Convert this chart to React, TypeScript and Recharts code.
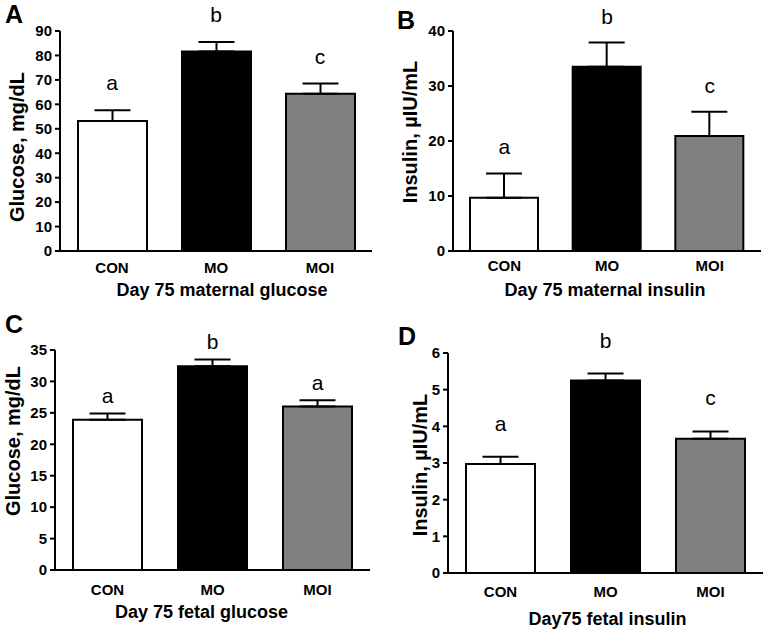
import React from 'react';
import {
  ComposedChart,
  Bar,
  Line,
  Cell,
  XAxis,
  YAxis,
  ErrorBar,
  LabelList,
} from 'recharts';

const GROUPS = ['CON', 'MO', 'MOI'];
const FILLS = ['#ffffff', '#000000', '#808080'];

const matGlucose = [53.2, 81.6, 64.3];
const matGlucoseSem = [4.4, 3.9, 4.2];
const matGlucoseLetters = ['a', 'b', 'c'];

const matInsulin = [9.7, 33.5, 20.9];
const matInsulinSem = [4.4, 4.4, 4.4];
const matInsulinLetters = ['a', 'b', 'c'];

const fetGlucose = [23.9, 32.4, 26.0];
const fetGlucoseSem = [1.0, 1.1, 1.0];
const fetGlucoseLetters = ['a', 'b', 'a'];

const fetInsulin = [2.97, 5.25, 3.66];
const fetInsulinSem = [0.2, 0.19, 0.2];
const fetInsulinLetters = ['a', 'b', 'c'];

const FONT = '"Liberation Sans", Arial, Helvetica, sans-serif';

function rows(means: number[], sems: number[], letters: string[]) {
  return GROUPS.map((g, i) => ({
    group: g,
    mean: means[i],
    err: [0, sems[i]],
    top: means[i] + sems[i],
    letter: letters[i],
  }));
}

interface PanelProps {
  tag: string;
  data: ReturnType<typeof rows>;
  ticks: number[];
  yTitle: string;
  xTitle: string;
  left: number;
  top: number;
  width: number;
  height: number;
  margin: { top: number; right: number; left: number; bottom: number };
  yWidth: number;
  xHeight: number;
  xTickGap: number;
  xTitleDy: number;
  xTitleDx: number;
  yTitleX: number;
  yTitleDy: number;
  letterGap: number;
  barSize: number;
  tagX: number;
  tagY: number;
}

function Panel(p: PanelProps) {
  const max = p.ticks[p.ticks.length - 1];
  return (
    <div style={{ position: 'absolute', left: p.left, top: p.top }}>
      <ComposedChart width={p.width} height={p.height} data={p.data} margin={p.margin}>
        <XAxis
          dataKey="group"
          height={p.xHeight}
          tickLine={false}
          tickSize={0}
          tickMargin={p.xTickGap}
          axisLine={{ stroke: '#000', strokeWidth: 2 }}
          tick={{ fill: '#000', fontSize: 15, fontWeight: 700, fontFamily: FONT }}
          label={{
            content: ({ viewBox }: any) => (
              <text
                x={viewBox.x + viewBox.width / 2 + p.xTitleDx}
                y={viewBox.y + p.xTitleDy}
                textAnchor="middle"
                fontSize={18}
                fontWeight={700}
                fontFamily={FONT}
                fill="#000"
              >
                {p.xTitle}
              </text>
            ),
          }}
        />
        <YAxis
          width={p.yWidth}
          domain={[0, max]}
          ticks={p.ticks}
          interval={0}
          tickSize={5}
          tickMargin={3}
          axisLine={{ stroke: '#000', strokeWidth: 2 }}
          tickLine={{ stroke: '#000', strokeWidth: 2 }}
          tick={{ fill: '#000', fontSize: 15, fontWeight: 700, fontFamily: FONT }}
          label={{
            content: ({ viewBox }: any) => {
              const cx = p.yTitleX;
              const cy = viewBox.y + viewBox.height / 2 + p.yTitleDy;
              return (
                <text
                  x={cx}
                  y={cy}
                  transform={`rotate(-90, ${cx}, ${cy})`}
                  textAnchor="middle"
                  dominantBaseline="central"
                  fontSize={20}
                  fontWeight={700}
                  fontFamily={FONT}
                  fill="#000"
                >
                  {p.yTitle}
                </text>
              );
            },
          }}
        />
        <Bar
          dataKey="mean"
          barSize={p.barSize}
          stroke="#000"
          strokeWidth={2}
          isAnimationActive={false}
        >
          {p.data.map((_, i) => (
            <Cell key={i} fill={FILLS[i]} />
          ))}
          <ErrorBar dataKey="err" direction="y" width={18} stroke="#000" strokeWidth={2} />
        </Bar>
        <Line
          dataKey="top"
          stroke="none"
          dot={false}
          activeDot={false}
          isAnimationActive={false}
        >
          <LabelList
            dataKey="letter"
            content={(lp: any) => (
              <text
                x={lp.x}
                y={lp.y - p.letterGap}
                textAnchor="middle"
                fontSize={21}
                fontFamily={FONT}
                fill="#000"
              >
                {lp.value}
              </text>
            )}
          />
        </Line>
      </ComposedChart>
      <div
        style={{
          position: 'absolute',
          left: p.tagX,
          top: p.tagY,
          fontFamily: FONT,
          fontWeight: 700,
          fontSize: 25,
          lineHeight: '25px',
          color: '#000',
        }}
      >
        {p.tag}
      </div>
    </div>
  );
}

export default function App() {
  return (
    <div
      style={{
        position: 'absolute',
        left: 0,
        top: 0,
        width: 765,
        height: 632,
        background: '#fff',
        overflow: 'hidden',
      }}
    >
      <Panel
        tag="A"
        data={rows(matGlucose, matGlucoseSem, matGlucoseLetters)}
        ticks={[0, 10, 20, 30, 40, 50, 60, 70, 80, 90]}
        yTitle="Glucose, mg/dL"
        xTitle="Day 75 maternal glucose"
        left={0}
        top={0}
        width={380}
        height={310}
        margin={{ top: 31, right: 8, left: 0, bottom: 0 }}
        yWidth={60}
        xHeight={59}
        xTickGap={11}
        xTitleDy={45}
        xTitleDx={6}
        yTitleX={17}
        yTitleDy={6}
        letterGap={20}
        barSize={69}
        tagX={5}
        tagY={2}
      />
      <Panel
        tag="B"
        data={rows(matInsulin, matInsulinSem, matInsulinLetters)}
        ticks={[0, 10, 20, 30, 40]}
        yTitle="Insulin, µIU/mL"
        xTitle="Day 75 maternal insulin"
        left={380}
        top={0}
        width={385}
        height={310}
        margin={{ top: 31, right: 4, left: 0, bottom: 0 }}
        yWidth={73}
        xHeight={59}
        xTickGap={9}
        xTitleDy={45}
        xTitleDx={-2}
        yTitleX={30}
        yTitleDy={-9}
        letterGap={19}
        barSize={68}
        tagX={17}
        tagY={8}
      />
      <Panel
        tag="C"
        data={rows(fetGlucose, fetGlucoseSem, fetGlucoseLetters)}
        ticks={[0, 5, 10, 15, 20, 25, 30, 35]}
        yTitle="Glucose, mg/dL"
        xTitle="Day 75 fetal glucose"
        left={0}
        top={310}
        width={380}
        height={322}
        margin={{ top: 40, right: 10, left: 0, bottom: 0 }}
        yWidth={55}
        xHeight={62}
        xTickGap={14}
        xTitleDy={48}
        xTitleDx={-11}
        yTitleX={13}
        yTitleDy={-19}
        letterGap={10}
        barSize={69}
        tagX={5}
        tagY={2}
      />
      <Panel
        tag="D"
        data={rows(fetInsulin, fetInsulinSem, fetInsulinLetters)}
        ticks={[0, 1, 2, 3, 4, 5, 6]}
        yTitle="Insulin, µIU/mL"
        xTitle="Day75 fetal insulin"
        left={380}
        top={310}
        width={385}
        height={322}
        margin={{ top: 43, right: 2, left: 0, bottom: 0 }}
        yWidth={68}
        xHeight={59}
        xTickGap={13}
        xTitleDy={52}
        xTitleDx={2}
        yTitleX={40}
        yTitleDy={2}
        letterGap={26}
        barSize={69}
        tagX={18}
        tagY={14}
      />
    </div>
  );
}
